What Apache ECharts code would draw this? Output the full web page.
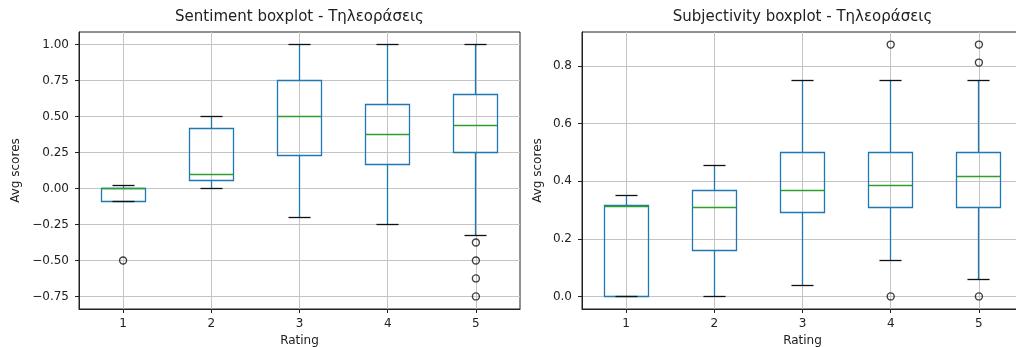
<!DOCTYPE html>
<html>
<head>
<meta charset="utf-8">
<script src="https://cdn.jsdelivr.net/npm/echarts@6/dist/echarts.min.js"></script>
<style>
  html, body { margin: 0; padding: 0; background: #fff; }
  #main { width: 1016px; height: 347px; }
</style>
</head>
<body>
<div id="main"></div>
<script>
// categories
const ratings = ['1', '2', '3', '4', '5'];

// box stats per rating: [lower whisker, Q1, median, Q3, upper whisker]
const sentimentBoxes = [
  [-0.088, -0.088, 0.0, 0.0, 0.023],
  [0.0, 0.058, 0.094, 0.419, 0.5],
  [-0.2, 0.226, 0.5, 0.75, 1.0],
  [-0.25, 0.169, 0.375, 0.583, 1.0],
  [-0.327, 0.25, 0.44, 0.65, 1.0]
];
// outliers: [rating index, value]
const sentimentOutliers = [[0, -0.5], [4, -0.375], [4, -0.5], [4, -0.625], [4, -0.75]];
const sentimentTicks = [-0.75, -0.5, -0.25, 0, 0.25, 0.5, 0.75, 1.0];

const subjectivityBoxes = [
  [0.0, 0.0, 0.312, 0.316, 0.35],
  [0.0, 0.16, 0.31, 0.368, 0.455],
  [0.039, 0.291, 0.369, 0.5, 0.75],
  [0.125, 0.31, 0.386, 0.5, 0.75],
  [0.06, 0.31, 0.416, 0.5, 0.75]
];
const subjectivityOutliers = [[3, 0.0], [3, 0.875], [4, 0.0], [4, 0.8125], [4, 0.875]];
const subjectivityTicks = [0, 0.2, 0.4, 0.6, 0.8];

const FONT = 'DejaVu Sans';
const TXT = '#222';
const GRIDC = '#c4c4c4';

// crisp 1px lines
function px(v) { return Math.round(v - 0.5) + 0.5; }

function renderBox(params, api) {
  const i = api.value(0);
  const lo = api.coord([i, api.value(1)]);
  const q1 = api.coord([i, api.value(2)]);
  const med = api.coord([i, api.value(3)]);
  const q3 = api.coord([i, api.value(4)]);
  const hi = api.coord([i, api.value(5)]);
  const band = api.size([1, 0])[0];
  const cx = px(q1[0]);
  const bw = band * 0.5 / 2, cw = band * 0.25 / 2;
  const blue = { stroke: '#1f77b4', lineWidth: 1.3, fill: null };
  const black = { stroke: '#111', lineWidth: 1.3 };
  return {
    type: 'group',
    children: [
      { type: 'line', shape: { x1: cx, y1: px(q3[1]), x2: cx, y2: px(hi[1]) }, style: blue },
      { type: 'line', shape: { x1: cx, y1: px(q1[1]), x2: cx, y2: px(lo[1]) }, style: blue },
      { type: 'rect', shape: { x: px(cx - bw), y: px(q3[1]), width: Math.round(bw * 2), height: Math.round(q1[1] - q3[1]) }, style: blue },
      { type: 'line', shape: { x1: cx - cw, y1: px(hi[1]), x2: cx + cw, y2: px(hi[1]) }, style: black },
      { type: 'line', shape: { x1: cx - cw, y1: px(lo[1]), x2: cx + cw, y2: px(lo[1]) }, style: black },
      { type: 'line', shape: { x1: px(cx - bw), y1: px(med[1]), x2: px(cx - bw) + Math.round(bw * 2), y2: px(med[1]) }, style: { stroke: '#2ca02c', lineWidth: 1.3 } }
    ]
  };
}

function fmt(digits) {
  return function (v) {
    const s = Math.abs(v).toFixed(digits);
    return v < 0 ? '\u2212' + s : s;
  };
}

function xAxisFor(gi) {
  return {
    type: 'category', gridIndex: gi, data: ratings, boundaryGap: true,
    name: 'Rating', nameLocation: 'middle', nameGap: 25,
    nameTextStyle: { color: TXT, fontSize: 12, fontFamily: FONT },
    axisLine: { show: true, onZero: false, lineStyle: { color: TXT, width: 1 } },
    axisTick: { show: true, alignWithLabel: true, length: 4, lineStyle: { color: TXT } },
    axisLabel: { color: TXT, fontSize: 12, fontFamily: FONT, margin: 9 },
    splitLine: { show: false }
  };
}

function yAxisFor(gi, min, max, ticks, digits, gap) {
  return {
    type: 'value', gridIndex: gi, min: min, max: max,
    name: 'Avg scores', nameLocation: 'middle', nameGap: gap,
    nameTextStyle: { color: TXT, fontSize: 12, fontFamily: FONT },
    axisLine: { show: true, onZero: false, lineStyle: { color: TXT, width: 1 } },
    axisTick: { show: true, length: 4, customValues: ticks, lineStyle: { color: TXT } },
    axisLabel: { color: TXT, fontSize: 12, fontFamily: FONT, margin: 10, customValues: ticks, formatter: fmt(digits) },
    splitLine: { show: true, lineStyle: { color: GRIDC, width: 1 } }
  };
}

// vertical grid lines at each rating
function vGrid(gi) {
  return {
    type: 'line', xAxisIndex: gi, yAxisIndex: gi, data: [], z: 0, silent: true,
    markLine: {
      silent: true, symbol: 'none', z: 0, label: { show: false },
      lineStyle: { color: GRIDC, type: 'solid', width: 1 },
      emphasis: { disabled: true },
      data: ratings.map(function (r, i) { return { xAxis: i }; })
    }
  };
}

function boxSeries(gi, boxes) {
  return {
    type: 'custom', xAxisIndex: gi, yAxisIndex: gi, z: 6,
    renderItem: renderBox,
    encode: { x: 0, y: [1, 2, 3, 4, 5] },
    data: boxes.map(function (b, i) { return [i].concat(b); })
  };
}

function outlierSeries(gi, pts) {
  return {
    type: 'scatter', xAxisIndex: gi, yAxisIndex: gi, z: 7,
    symbol: 'circle', symbolSize: 7,
    itemStyle: { color: 'rgba(0,0,0,0)', borderColor: '#111', borderWidth: 1.4 },
    data: pts
  };
}

const chart = echarts.init(document.getElementById('main'));
chart.setOption({
  animation: false,
  backgroundColor: '#fff',
  title: [
    { text: 'Sentiment boxplot - Τηλεοράσεις', left: 299.5, top: 10, textAlign: 'center', padding: 0,
      textStyle: { color: TXT, fontSize: 15, fontWeight: 'normal', fontFamily: FONT } },
    { text: 'Subjectivity boxplot - Τηλεοράσεις', left: 802.5, top: 10, textAlign: 'center', padding: 0,
      textStyle: { color: TXT, fontSize: 15, fontWeight: 'normal', fontFamily: FONT } }
  ],
  grid: [
    { left: 79, top: 32, width: 441, height: 277, show: true, borderColor: TXT, borderWidth: 1,
      containLabel: false, outerBoundsMode: 'none' },
    { left: 582, top: 32, width: 441, height: 277, show: true, borderColor: TXT, borderWidth: 1,
      containLabel: false, outerBoundsMode: 'none' }
  ],
  xAxis: [xAxisFor(0), xAxisFor(1)],
  yAxis: [
    yAxisFor(0, -0.8375, 1.0875, sentimentTicks, 2, 57),
    yAxisFor(1, -0.04375, 0.91875, subjectivityTicks, 1, 38)
  ],
  series: [
    vGrid(0), boxSeries(0, sentimentBoxes), outlierSeries(0, sentimentOutliers),
    vGrid(1), boxSeries(1, subjectivityBoxes), outlierSeries(1, subjectivityOutliers)
  ]
});
</script>
</body>
</html>
